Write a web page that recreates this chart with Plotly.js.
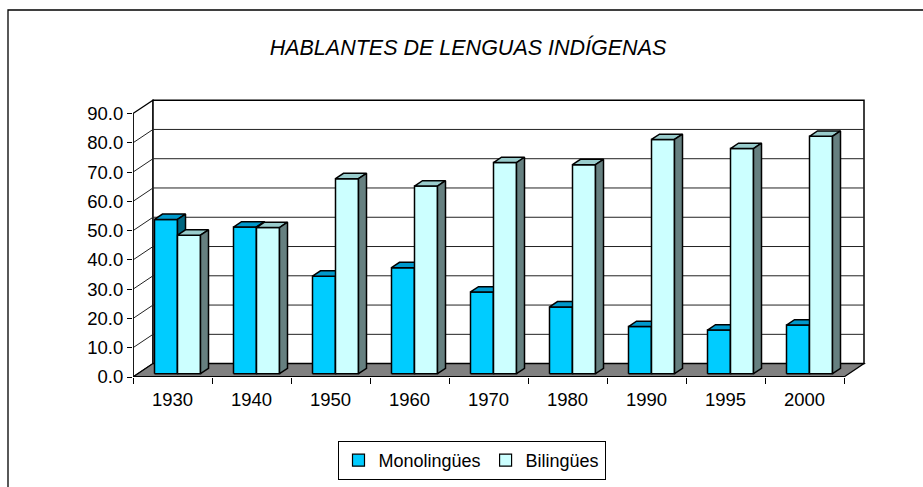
<!DOCTYPE html>
<html>
<head>
<meta charset="utf-8">
<script src="https://cdn.plot.ly/plotly-3.0.1.min.js"></script>
<style>
  html, body { margin: 0; padding: 0; background: #ffffff; }
  #chart { width: 923px; height: 487px; }
</style>
</head>
<body>
<div id="chart"></div>
<script>
// ---- data ----
var years = ['1930', '1940', '1950', '1960', '1970', '1980', '1990', '1995', '2000'];
var monolingues = [52.7, 50.1, 33.3, 36.2, 27.9, 22.8, 16.1, 14.9, 16.6];
var bilingues = [47.3, 49.9, 66.6, 64.1, 72.1, 71.4, 80.0, 76.9, 81.1];
var yTickVals = [0, 10, 20, 30, 40, 50, 60, 70, 80, 90];
var seriesNames = ['Monolingües', 'Bilingües'];
var chartTitle = 'HABLANTES DE LENGUAS INDÍGENAS';

// ---- geometry (pixel layout of the 3-D box) ----
var L = 133, R = 870, T = 95, B = 377;
var W = 923, H = 487;
var pxCat = 79, pxVal = 2.927;
var xMax = (R - L) / pxCat, yMax = (B - T) / pxVal;
var dxB = 20 / pxCat, dyB = 13.4 / pxVal;   // depth of the floor
var f0 = 0.25, f1 = 0.65;                    // bar front / back depth fraction
var bw = 23 / pxCat;                         // bar width in category units
var nCat = years.length;
var vMax = yTickVals[yTickVals.length - 1];
var FONT = '"Liberation Sans", Arial, sans-serif';

var colors = {
  mono: { front: '#00CCFF', top: '#0099CC', side: '#006680' },
  bili: { front: '#CCFFFF', top: '#99CCCC', side: '#668080' }
};

function faces(values, s) {
  var fx = [], fy = [], tx = [], ty = [], sx = [], sy = [];
  var ddx = (f1 - f0) * dxB, ddy = (f1 - f0) * dyB;
  for (var i = 0; i < values.length; i++) {
    var c = i + 0.5 + f0 * dxB;
    var x0 = s === 0 ? c - bw : c;
    var x1 = x0 + bw;
    var yb = f0 * dyB;
    var yt = yb + values[i];
    fx.push(x0, x1, x1, x0, x0, null); fy.push(yb, yb, yt, yt, yb, null);
    tx.push(x0, x1, x1 + ddx, x0 + ddx, x0, null); ty.push(yt, yt, yt + ddy, yt + ddy, yt, null);
    sx.push(x1, x1 + ddx, x1 + ddx, x1, x1, null); sy.push(yb, yb + ddy, yt + ddy, yt, yb, null);
  }
  return { fx: fx, fy: fy, tx: tx, ty: ty, sx: sx, sy: sy };
}

function poly(x, y, color, name) {
  return {
    type: 'scatter', mode: 'lines', x: x, y: y, fill: 'toself', fillcolor: color,
    line: { color: '#000000', width: 1.5 }, connectgaps: false,
    hoverinfo: 'skip', showlegend: false, name: name
  };
}

var traces = [];
[[monolingues, colors.mono], [bilingues, colors.bili]].forEach(function (pair, s) {
  var f = faces(pair[0], s);
  traces.push(poly(f.fx, f.fy, pair[1].front, seriesNames[s]));
  traces.push(poly(f.tx, f.ty, pair[1].top, seriesNames[s]));
  traces.push(poly(f.sx, f.sy, pair[1].side, seriesNames[s]));
});
// legend entries
[colors.mono.front, colors.bili.front].forEach(function (col, s) {
  traces.push({
    type: 'scatter', mode: 'markers', x: [-10], y: [-10], xaxis: 'x2',
    name: seriesNames[s], showlegend: true, hoverinfo: 'skip',
    marker: { symbol: 'square', size: 12, color: col, line: { color: '#000000', width: 1.2 } }
  });
});

// ---- walls, floor, gridlines ----
var shapes = [];
function px2paperX(p) { return (p - L) / (R - L); }
function px2paperY(p) { return (B - p) / (B - T); }
shapes.push({ type: 'rect', xref: 'paper', yref: 'paper',
  x0: px2paperX(8), x1: px2paperX(W + 10), y0: px2paperY(10), y1: px2paperY(H + 10),
  line: { color: '#000000', width: 1.3 }, fillcolor: 'rgba(0,0,0,0)', layer: 'below' });
shapes.push({ type: 'path', xref: 'x', yref: 'y', layer: 'below',
  path: 'M0,0 L' + dxB + ',' + dyB + ' L' + dxB + ',' + (vMax + dyB) + ' L0,' + vMax + ' Z',
  fillcolor: '#ffffff', line: { color: '#000000', width: 1.2 } });
shapes.push({ type: 'rect', xref: 'x', yref: 'y', layer: 'below',
  x0: dxB, x1: nCat + dxB, y0: dyB, y1: vMax + dyB,
  fillcolor: '#ffffff', line: { color: '#000000', width: 1.5 } });
yTickVals.forEach(function (v) {
  if (v === 0 || v === vMax) return;
  shapes.push({ type: 'line', xref: 'x', yref: 'y', layer: 'below',
    x0: dxB, x1: nCat + dxB, y0: v + dyB, y1: v + dyB, line: { color: '#222222', width: 1 } });
  shapes.push({ type: 'line', xref: 'x', yref: 'y', layer: 'below',
    x0: 0, x1: dxB, y0: v, y1: v + dyB, line: { color: '#222222', width: 1 } });
});
shapes.push({ type: 'path', xref: 'x', yref: 'y', layer: 'below',
  path: 'M0,0 L' + nCat + ',0 L' + (nCat + dxB) + ',' + dyB + ' L' + dxB + ',' + dyB + ' Z',
  fillcolor: '#808080', line: { color: '#000000', width: 1.2 } });
shapes.push({ type: 'line', xref: 'x', yref: 'y', layer: 'below',
  x0: 0, x1: nCat, y0: 0, y1: 0, line: { color: '#000000', width: 1.8 } });
shapes.push({ type: 'line', xref: 'x', yref: 'y', layer: 'below',
  x0: 0, x1: 0, y0: 0, y1: vMax, line: { color: '#000000', width: 1.5 } });

var catBounds = [], catCenters = [];
for (var i = 0; i <= nCat; i++) catBounds.push(i);
for (var j = 0; j < nCat; j++) catCenters.push(j + 0.5);

var layout = {
  width: W, height: H,
  margin: { l: L, r: W - R, t: T, b: H - B, pad: 0 },
  paper_bgcolor: '#ffffff', plot_bgcolor: 'rgba(0,0,0,0)',
  font: { family: FONT, color: '#000000', size: 18 },
  title: {
    text: '<i>' + chartTitle + '</i>',
    font: { family: FONT, size: 21.5, color: '#000000' },
    xref: 'container', yref: 'container', x: 468 / W, y: 1 - 47 / H,
    xanchor: 'center', yanchor: 'middle'
  },
  xaxis: {
    range: [0, xMax], tickvals: catBounds, showticklabels: false,
    ticks: 'outside', ticklen: 6, tickcolor: '#000000', tickwidth: 1,
    showgrid: false, zeroline: false, showline: false, fixedrange: true
  },
  xaxis2: {
    overlaying: 'x', anchor: 'y', side: 'bottom', range: [0, xMax],
    tickvals: catCenters, ticktext: years, ticks: '', ticklabelstandoff: 9,
    tickfont: { family: FONT, size: 18.5, color: '#000000' },
    showgrid: false, zeroline: false, showline: false, fixedrange: true
  },
  yaxis: {
    range: [0, yMax], tickvals: yTickVals, tickformat: '.1f',
    ticks: 'outside', ticklen: 5, tickcolor: '#000000', tickwidth: 1,
    tickfont: { family: FONT, size: 18.5, color: '#000000' },
    showgrid: false, zeroline: false, showline: false, fixedrange: true
  },
  showlegend: true,
  legend: {
    orientation: 'h', xref: 'container', yref: 'container',
    x: 471.5 / W, y: 1 - 460.5 / H, xanchor: 'center', yanchor: 'middle',
    bordercolor: '#000000', borderwidth: 1, bgcolor: '#ffffff',
    font: { family: FONT, size: 18, color: '#000000' }
  },
  shapes: shapes
};

Plotly.newPlot('chart', traces, layout, { staticPlot: true, displayModeBar: false });
</script>
</body>
</html>
